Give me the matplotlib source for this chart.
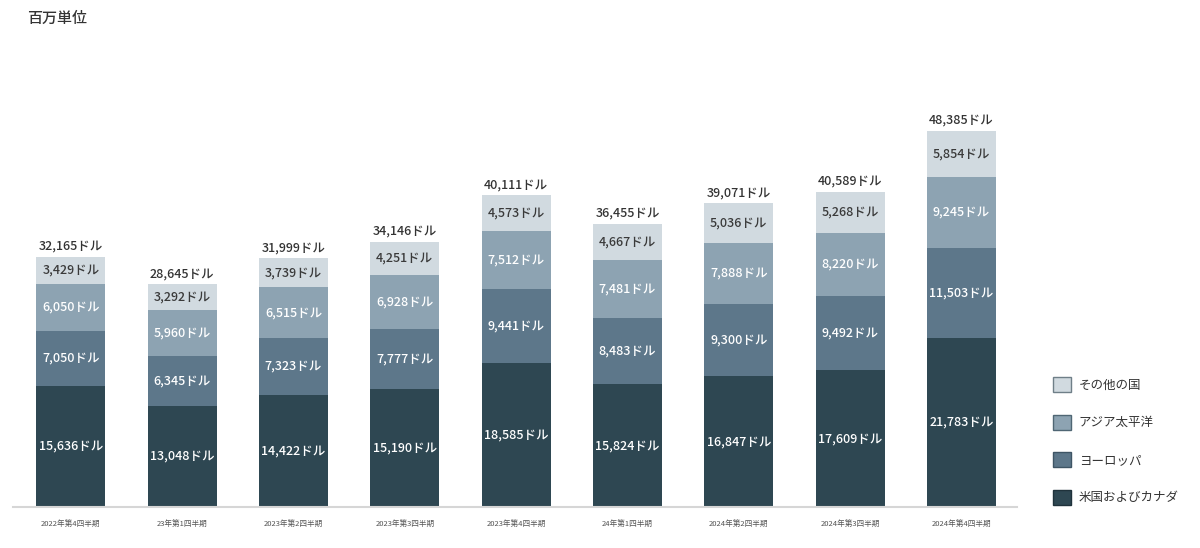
import numpy as np
import matplotlib.pyplot as plt
from matplotlib.patches import Patch

plt.rcParams['font.family'] = ['Noto Sans CJK JP', 'DejaVu Sans']

quarters = ["2022年第4四半期", "23年第1四半期", "2023年第2四半期", "2023年第3四半期",
            "2023年第4四半期", "24年第1四半期", "2024年第2四半期", "2024年第3四半期",
            "2024年第4四半期"]
us_canada = [15636, 13048, 14422, 15190, 18585, 15824, 16847, 17609, 21783]
europe = [7050, 6345, 7323, 7777, 9441, 8483, 9300, 9492, 11503]
asia_pacific = [6050, 5960, 6515, 6928, 7512, 7481, 7888, 8220, 9245]
other = [3429, 3292, 3739, 4251, 4573, 4667, 5036, 5268, 5854]
totals = [32165, 28645, 31999, 34146, 40111, 36455, 39071, 40589, 48385]

series = [("米国およびカナダ", us_canada, "#2e4752", "white"),
          ("ヨーロッパ", europe, "#5d778a", "white"),
          ("アジア太平洋", asia_pacific, "#8da3b2", "white"),
          ("その他の国", other, "#d1dae0", "#3a3a3a")]

fig = plt.figure(figsize=(12, 5.48), dpi=100)
ax = fig.add_axes([13 / 1200, 1 - 507 / 548, (1017 - 13) / 1200, (507 - 40) / 548])

x = np.arange(len(quarters))
bottom = np.zeros(len(quarters))
for name, vals, color, tcolor in series:
    vals = np.array(vals)
    ax.bar(x, vals, 0.62, bottom=bottom, color=color, linewidth=0)
    for xi, b, v in zip(x, bottom, vals):
        ax.text(xi, b + v / 2, f"{v:,}ドル", ha='center', va='center',
                fontsize=9, color=tcolor, fontweight='medium')
    bottom += vals

for xi, t in zip(x, totals):
    ax.text(xi, t + 550, f"{t:,}ドル", ha='center', va='bottom', fontsize=9,
            color="#333333", fontweight='medium')

ax.set_xlim(-0.52, 8.5)
ax.set_ylim(0, 60100)
ax.set_xticks(x)
ax.set_xticklabels(quarters, fontsize=5.5, color="#555555")
ax.tick_params(axis='x', length=0, pad=9)
ax.set_yticks([])
for s in ['top', 'right', 'left']:
    ax.spines[s].set_visible(False)
ax.spines['bottom'].set_color("#d6d6d6")
ax.spines['bottom'].set_linewidth(1.5)

fig.text(27 / 1200, 1 - 18 / 548, "百万単位", fontsize=10.8, color="#333333",
         va='center', fontweight='medium')

edges = ["#6f7f88", "#4f6674", "#3e5565", "#1f323b"]
handles = [Patch(facecolor=c, edgecolor=e, linewidth=1)
           for (n, v, c, t), e in zip(series[::-1], edges)]
labels = [n for n, v, c, t in series[::-1]]
fig.legend(handles, labels, loc='upper left', bbox_to_anchor=(1042 / 1200, 1 - 366 / 548),
           frameon=False, fontsize=9, handlelength=1.44, handleheight=1.44,
           labelspacing=1.82, handletextpad=0.6, labelcolor="#333333")

fig.savefig("out.png", dpi=100)
